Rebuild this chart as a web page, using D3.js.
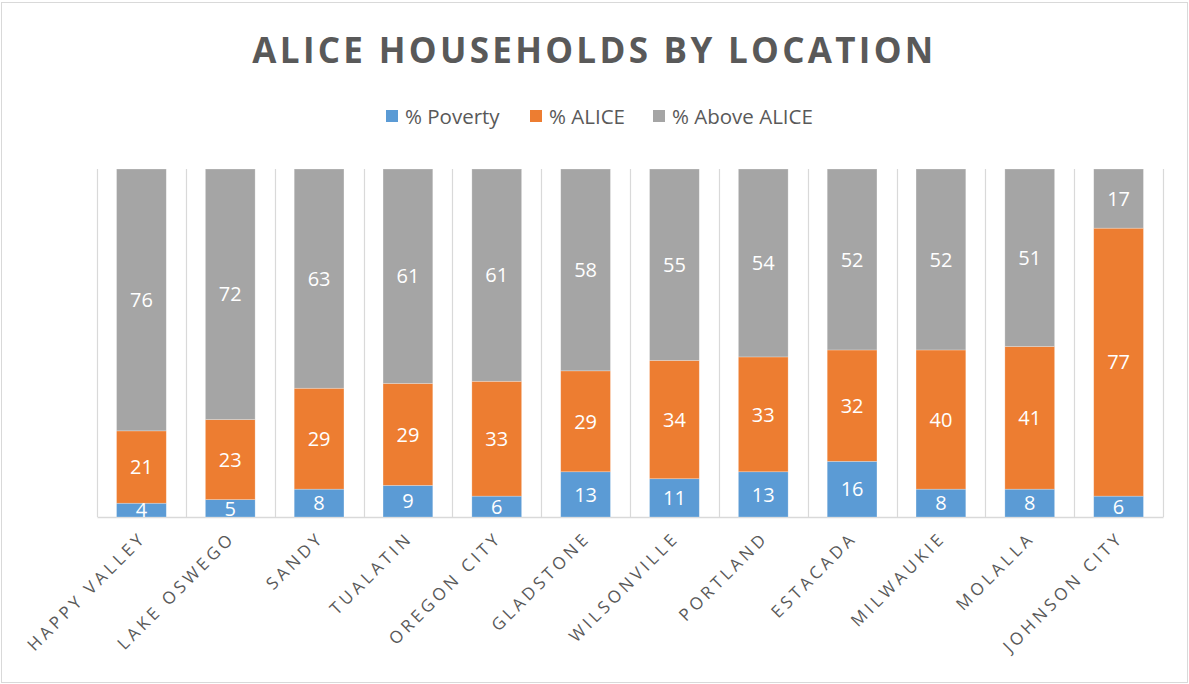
<!DOCTYPE html>
<html>
<head>
<meta charset="utf-8">
<script src="https://cdn.jsdelivr.net/npm/d3@7"></script>
<style>
  body { margin: 0; background: #fff; }
  text { font-family: "Open Sans", "Noto Sans", sans-serif; }
</style>
</head>
<body>
<div id="chartarea"></div>
<script>
const locations = ['HAPPY VALLEY', 'LAKE OSWEGO', 'SANDY', 'TUALATIN', 'OREGON CITY', 'GLADSTONE',
    'WILSONVILLE', 'PORTLAND', 'ESTACADA', 'MILWAUKIE', 'MOLALLA', 'JOHNSON CITY'];
const poverty = [4, 5, 8, 9, 6, 13, 11, 13, 16, 8, 8, 6];
const alice = [21, 23, 29, 29, 33, 29, 34, 33, 32, 40, 41, 77];
const aboveAlice = [76, 72, 63, 61, 61, 58, 55, 54, 52, 52, 51, 17];
const seriesNames = ['% Poverty', '% ALICE', '% Above ALICE'];
const seriesColors = ['#5b9bd5', '#ed7d31', '#a5a5a5'];

const W = 1189, H = 684;
const margin = { top: 169, right: 26, bottom: 167, left: 97 };
const width = W - margin.left - margin.right;
const height = H - margin.top - margin.bottom;

const svg = d3.select('#chartarea')
    .append('svg')
        .attr('width', W)
        .attr('height', H);

// outer border
svg.append('rect')
    .attr('x', 1.5).attr('y', 2.5)
    .attr('width', W - 3).attr('height', H - 4)
    .attr('fill', 'none')
    .attr('stroke', '#d9d9d9');

// title
svg.append('text')
    .attr('x', W / 2)
    .attr('y', 63)
    .attr('text-anchor', 'middle')
    .attr('font-size', 35)
    .attr('font-weight', 'bold')
    .attr('letter-spacing', 3.3)
    .attr('fill', '#595959')
    .text('ALICE HOUSEHOLDS BY LOCATION');

// legend
const legendX = [386, 530, 653];
const legend = svg.append('g');
seriesNames.forEach((name, i) => {
    legend.append('rect')
        .attr('x', legendX[i]).attr('y', 110)
        .attr('width', 12).attr('height', 12)
        .attr('fill', seriesColors[i]);
    legend.append('text')
        .attr('x', legendX[i] + 19)
        .attr('y', 124)
        .attr('font-size', 20.5)
        .attr('fill', '#595959')
        .text(name);
});

const group = svg.append('g')
    .attr('transform', `translate(${margin.left}, ${margin.top})`);

const rows = locations.map((loc, i) => {
    const vals = [poverty[i], alice[i], aboveAlice[i]];
    const total = d3.sum(vals);
    return { loc, vals, total };
});

const x = d3.scaleBand()
    .domain(locations)
    .range([0, width])
    .paddingInner(0.44)
    .paddingOuter(0.22);

const y = d3.scaleLinear()
    .domain([0, 1])
    .range([height, 0]);

// vertical gridlines at category boundaries
const bounds = d3.range(locations.length + 1).map(i => i * width / locations.length);
group.selectAll('.grid')
    .data(bounds)
    .enter()
    .append('line')
    .attr('x1', d => Math.round(d) + 0.5)
    .attr('x2', d => Math.round(d) + 0.5)
    .attr('y1', 0)
    .attr('y2', height)
    .attr('stroke', '#d9d9d9')
    .attr('stroke-width', 1.2);

// bottom axis
const xAxis = d3.axisBottom(x).tickSize(0).tickFormat('');
group.append('g')
    .attr('class', 'x axis')
    .attr('transform', `translate(0, ${height})`)
    .call(xAxis)
    .call(g => g.select('.domain').attr('stroke', '#d9d9d9').attr('stroke-width', 1.5));

// stacked segments
const segments = [];
rows.forEach(r => {
    let acc = 0;
    r.vals.forEach((v, s) => {
        const y0 = acc / r.total;
        acc += v;
        segments.push({ loc: r.loc, s, v, y0, y1: acc / r.total });
    });
});

group.selectAll('rect.seg')
    .data(segments)
    .enter()
    .append('rect')
    .attr('class', 'seg')
    .attr('x', d => x(d.loc))
    .attr('y', d => y(d.y1))
    .attr('width', x.bandwidth())
    .attr('height', d => y(d.y0) - y(d.y1))
    .attr('fill', d => seriesColors[d.s])
    .attr('stroke', '#ffffff')
    .attr('stroke-opacity', 0.35)
    .attr('stroke-width', 0.7);

// data labels
group.selectAll('text.val')
    .data(segments)
    .enter()
    .append('text')
    .attr('class', 'val')
    .attr('x', d => x(d.loc) + x.bandwidth() / 2)
    .attr('y', d => (y(d.y0) + y(d.y1)) / 2)
    .attr('dy', '0.36em')
    .attr('text-anchor', 'middle')
    .attr('font-size', 20)
    .attr('fill', '#ffffff')
    .text(d => d.v);

// category labels
group.selectAll('text.cat')
    .data(locations)
    .enter()
    .append('text')
    .attr('class', 'cat')
    .attr('text-anchor', 'end')
    .attr('font-size', 17)
    .attr('letter-spacing', 3.7)
    .attr('fill', '#595959')
    .attr('transform', d => `translate(${x(d) + x.bandwidth() / 2 + 6}, ${height + 22}) rotate(-45)`)
    .text(d => d);
</script>
</body>
</html>
